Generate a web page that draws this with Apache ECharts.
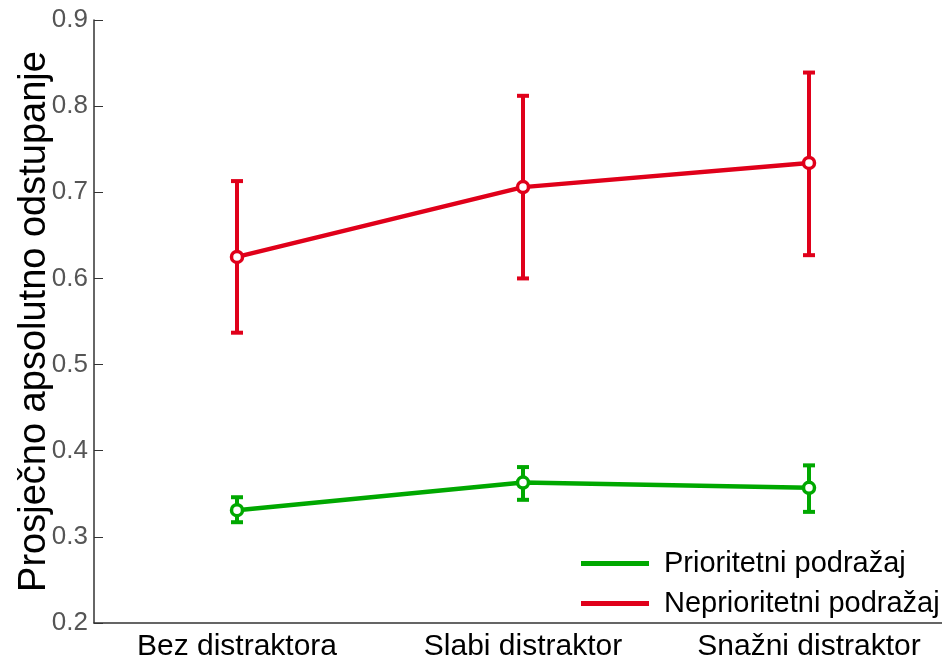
<!DOCTYPE html>
<html>
<head>
<meta charset="utf-8">
<script src="https://cdn.jsdelivr.net/npm/echarts@6/dist/echarts.min.js"></script>
<style>
  html, body { margin: 0; padding: 0; background: #fff; }
  #chart { width: 942px; height: 662px; }
</style>
</head>
<body>
<div id="chart"></div>
<script>
var categories = ['Bez distraktora', 'Slabi distraktor', 'Snažni distraktor'];
var seriesNames = ['Prioritetni podražaj', 'Neprioritetni podražaj'];
var greenMean = [0.331, 0.363, 0.357];
var greenLow = [0.317, 0.343, 0.329];
var greenHigh = [0.346, 0.381, 0.383];
var redMean = [0.625, 0.706, 0.734];
var redLow = [0.537, 0.600, 0.627];
var redHigh = [0.713, 0.812, 0.839];

var GREEN = '#00a800';
var RED = '#e0001a';
var FONT = 'Liberation Sans, Arial';

function errorData(low, high) {
  var out = [];
  for (var i = 0; i < low.length; i++) out.push([i, low[i], high[i]]);
  return out;
}

function errorSeries(name, color, low, high) {
  return {
    name: name,
    type: 'custom',
    z: 3,
    data: errorData(low, high),
    renderItem: function (params, api) {
      var lo = api.coord([api.value(0), api.value(1)]);
      var hi = api.coord([api.value(0), api.value(2)]);
      var cap = 6;
      var style = { stroke: color, lineWidth: 4, fill: null };
      return {
        type: 'group',
        children: [
          { type: 'line', shape: { x1: lo[0], y1: lo[1], x2: hi[0], y2: hi[1] }, style: style },
          { type: 'line', shape: { x1: lo[0] - cap, y1: lo[1], x2: lo[0] + cap, y2: lo[1] }, style: style },
          { type: 'line', shape: { x1: hi[0] - cap, y1: hi[1], x2: hi[0] + cap, y2: hi[1] }, style: style }
        ]
      };
    }
  };
}

function lineSeries(name, color, values) {
  return {
    name: name,
    type: 'line',
    z: 4,
    data: values,
    symbol: 'circle',
    symbolSize: 11,
    itemStyle: { color: '#fff', borderColor: color, borderWidth: 3.5 },
    lineStyle: { color: color, width: 4.5 },
    emphasis: { disabled: true }
  };
}

var chart = echarts.init(document.getElementById('chart'));
chart.setOption({
  animation: false,
  grid: { left: 94, right: -10, top: 20, bottom: 39, containLabel: false, outerBoundsMode: 'none' },
  legend: {
    orient: 'vertical',
    left: 576,
    top: 544,
    itemWidth: 68,
    itemHeight: 5,
    itemGap: 11,
    icon: 'rect',
    textStyle: { fontFamily: FONT, fontSize: 29, color: '#000', padding: [0, 0, 0, 10] },
    data: [
      { name: seriesNames[0], itemStyle: { color: GREEN } },
      { name: seriesNames[1], itemStyle: { color: RED } }
    ]
  },
  xAxis: {
    type: 'category',
    data: categories,
    boundaryGap: true,
    axisLine: { lineStyle: { color: '#333', width: 1.5 } },
    axisTick: { inside: true, length: 9, alignWithLabel: true, lineStyle: { color: '#333' } },
    axisLabel: { fontFamily: FONT, fontSize: 30, color: '#000', margin: 9, interval: 0, hideOverlap: false },
    splitLine: { show: false }
  },
  yAxis: {
    type: 'value',
    min: 0.2,
    max: 0.9,
    interval: 0.1,
    name: 'Prosječno apsolutno odstupanje',
    nameLocation: 'middle',
    nameGap: 40,
    nameMoveOverlap: false,
    nameTextStyle: { fontFamily: FONT, fontSize: 38, color: '#000' },
    axisLine: { show: true, lineStyle: { color: '#333', width: 1.5 } },
    axisTick: { show: true, inside: true, length: 9, lineStyle: { color: '#333' } },
    axisLabel: { fontFamily: FONT, fontSize: 26, color: '#555', margin: 6,
      formatter: function (v) { return v.toFixed(1); } },
    splitLine: { show: false }
  },
  series: [
    errorSeries(seriesNames[0], GREEN, greenLow, greenHigh),
    errorSeries(seriesNames[1], RED, redLow, redHigh),
    lineSeries(seriesNames[0], GREEN, greenMean),
    lineSeries(seriesNames[1], RED, redMean)
  ]
});
</script>
</body>
</html>
